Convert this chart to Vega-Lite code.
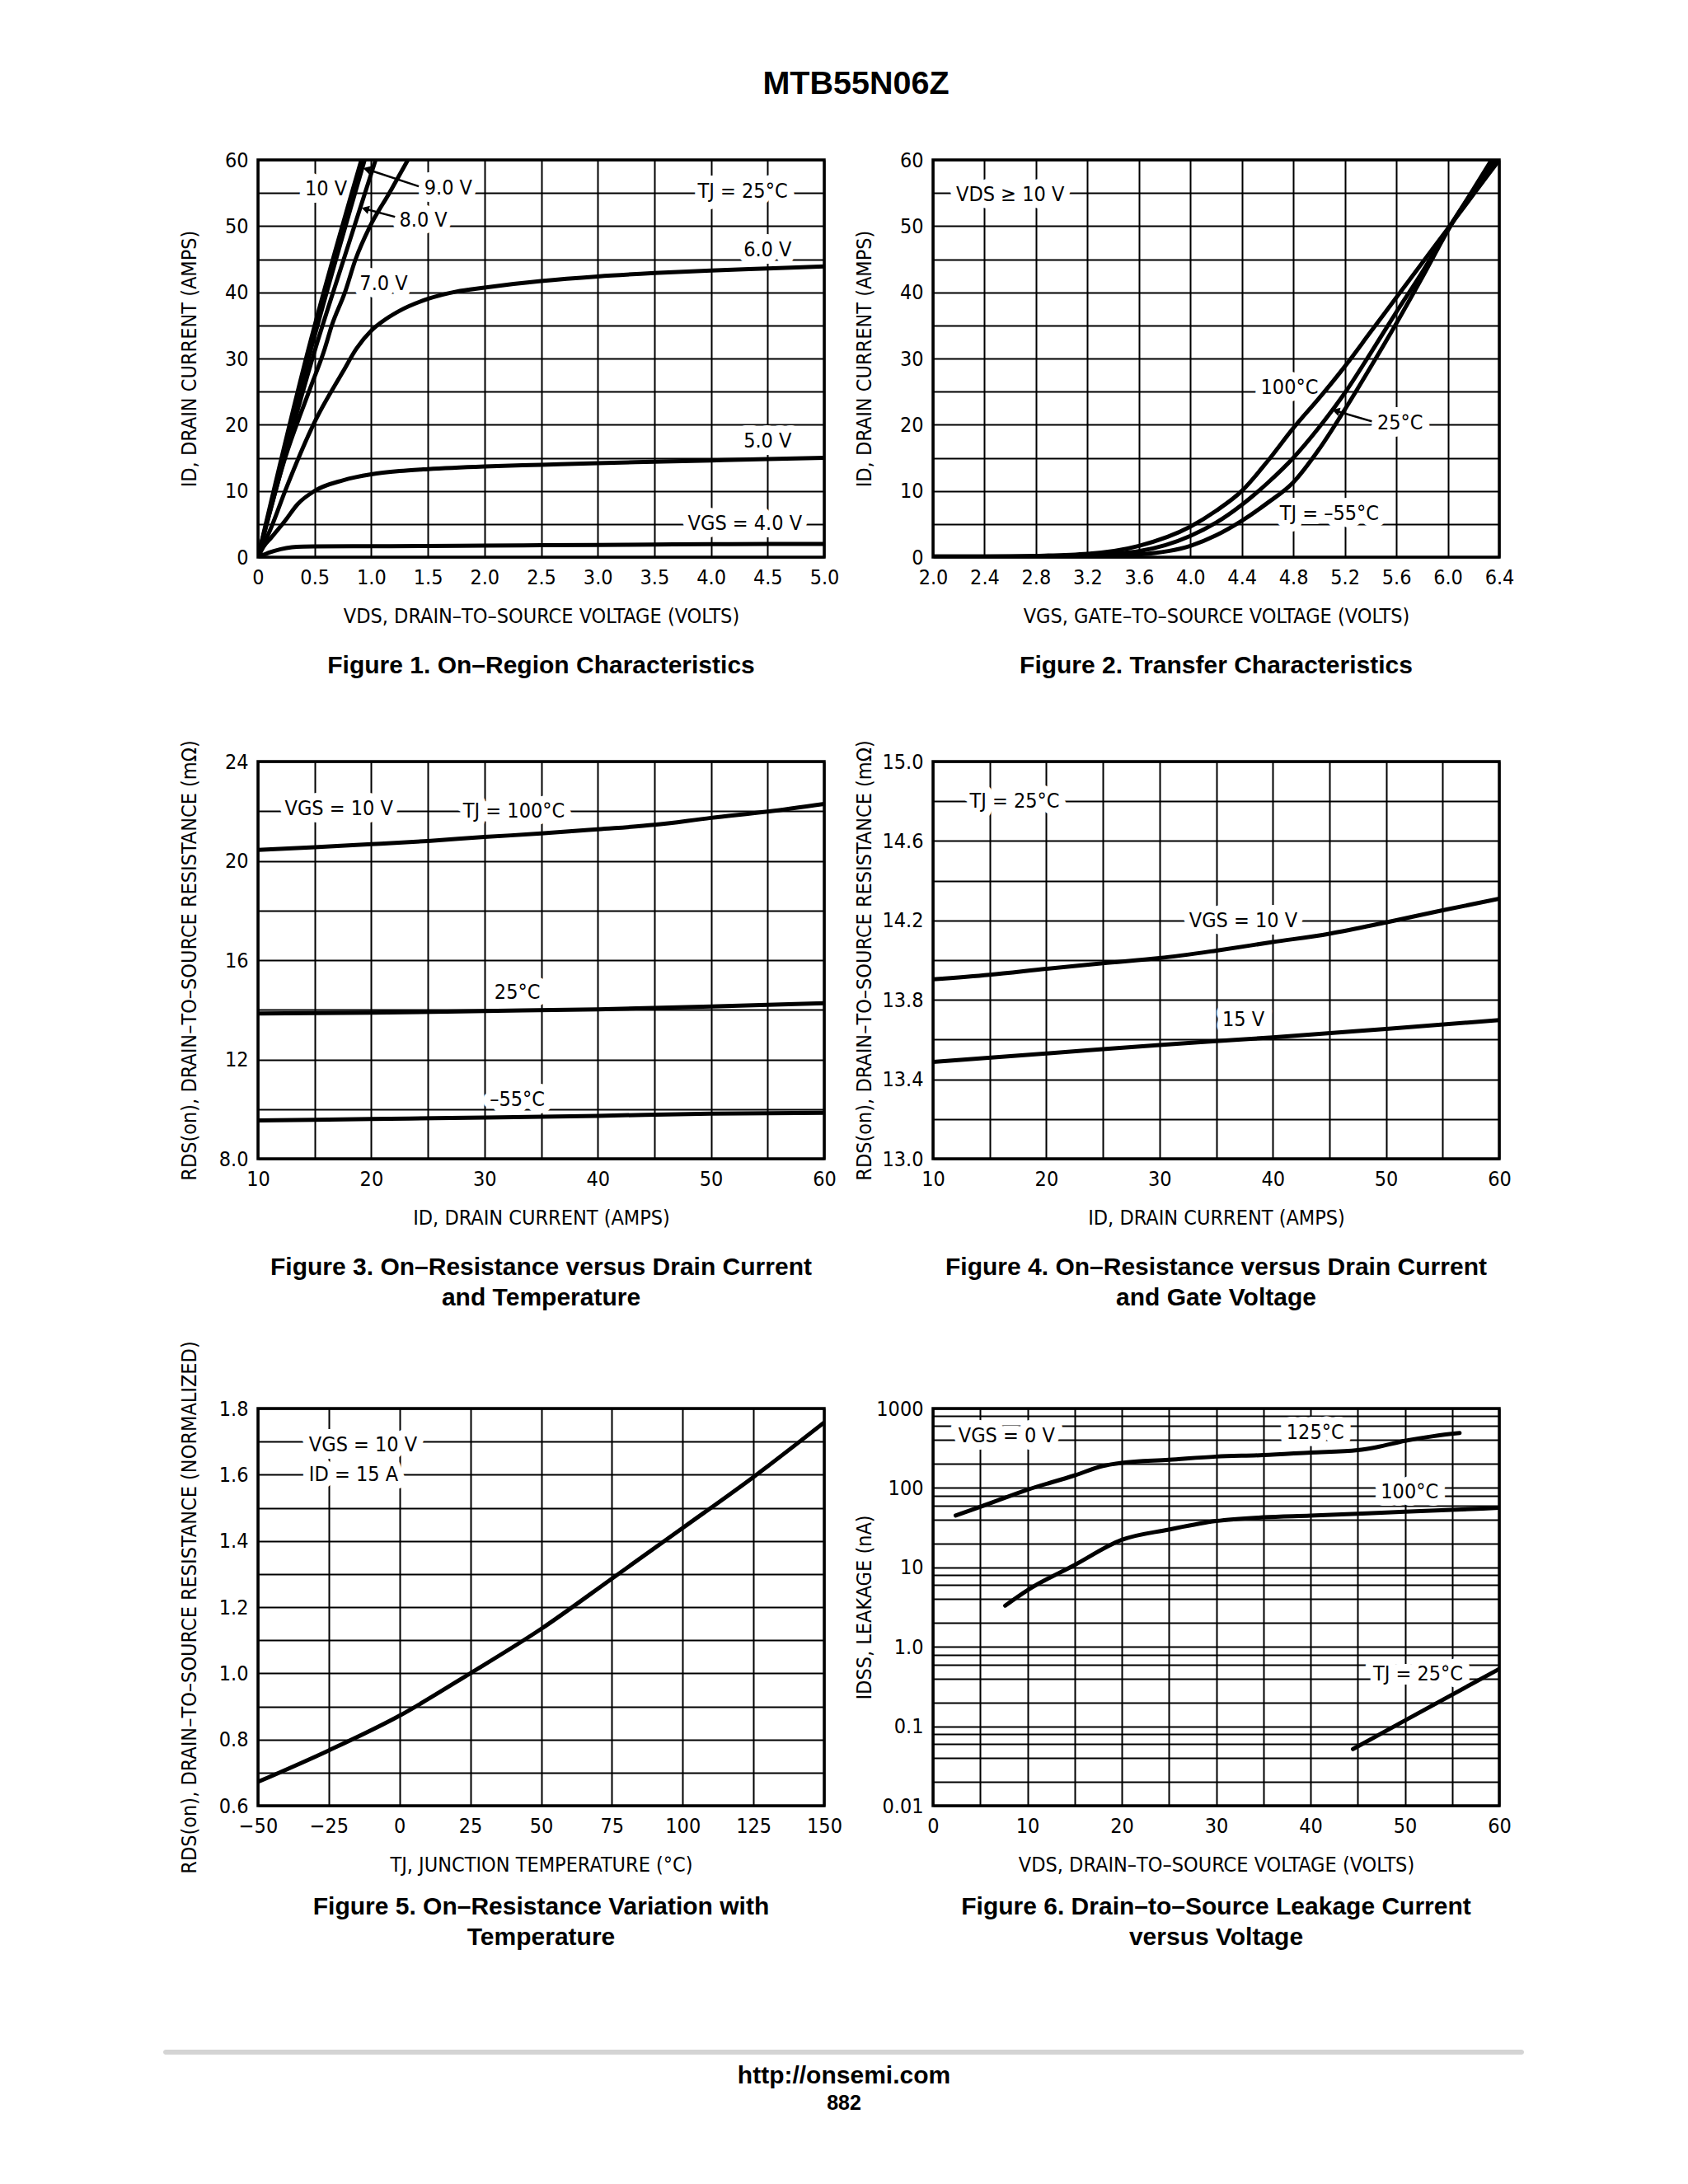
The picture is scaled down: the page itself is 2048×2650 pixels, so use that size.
{
  "$schema": "https://vega.github.io/schema/vega-lite/v6.json",
  "background": "white",
  "padding": {"left": 198, "top": 81, "right": 5, "bottom": 5},
  "title": {"text": "MTB55N06Z", "orient": "top", "anchor": "middle", "frame": "bounds", "fontSize": 39.5, "offset": 58, "dx": 15, "font": "'Liberation Sans', Arial, sans-serif", "fontWeight": "bold", "color": "black"},
  "config": {
    "view": {"stroke": "black", "strokeWidth": 3.5},
    "axis": {"grid": true, "gridColor": "black", "gridOpacity": 1, "gridWidth": 2, "domain": false, "ticks": false,
      "labelFont": "'Liberation Sans Narrow', 'Arial Narrow', 'DejaVu Sans Condensed', 'Liberation Sans', sans-serif", "labelFontSize": 25, "labelColor": "black",
      "titleFont": "'Liberation Sans Narrow', 'Arial Narrow', 'DejaVu Sans Condensed', 'Liberation Sans', sans-serif", "titleFontSize": 25, "titleFontWeight": "normal", "titleColor": "black",
      "labelOverlap": false, "labelFlush": false, "labelBound": false, "titleLimit": 2000, "labelLimit": 300, "labelPadding": 12},
    "axisX": {"titlePadding": 22, "labelPadding": 12},
    "axisY": {"titlePadding": 13, "minExtent": 58, "maxExtent": 58},
    "title": {"orient": "bottom", "anchor": "middle", "font": "'Liberation Sans', Arial, sans-serif", "fontSize": 30, "fontWeight": "bold", "color": "black", "offset": 33, "lineHeight": 37}
  },
  "datasets": {
    "f1": [
      {"s":"4","x":0,"y":0},{"s":"4","x":0.05,"y":0.35},{"s":"4","x":0.1,"y":0.7},{"s":"4","x":0.2,"y":1.2},{"s":"4","x":0.3,"y":1.5},{"s":"4","x":0.4,"y":1.6},{"s":"4","x":0.5,"y":1.62},{"s":"4","x":1,"y":1.65},{"s":"4","x":1.5,"y":1.68},{"s":"4","x":2,"y":1.75},{"s":"4","x":2.5,"y":1.8},{"s":"4","x":3,"y":1.85},{"s":"4","x":3.5,"y":1.9},{"s":"4","x":4,"y":1.95},{"s":"4","x":4.5,"y":2.0},{"s":"4","x":5,"y":2.0},
      {"s":"5","x":0,"y":0},{"s":"5","x":0.05,"y":1.6},{"s":"5","x":0.12,"y":3.0},{"s":"5","x":0.24,"y":5.5},{"s":"5","x":0.35,"y":8.0},{"s":"5","x":0.5,"y":10.0},{"s":"5","x":0.75,"y":11.6},{"s":"5","x":1,"y":12.5},{"s":"5","x":1.25,"y":13.0},{"s":"5","x":1.5,"y":13.3},{"s":"5","x":2,"y":13.7},{"s":"5","x":2.5,"y":13.95},{"s":"5","x":3,"y":14.2},{"s":"5","x":3.5,"y":14.4},{"s":"5","x":4,"y":14.6},{"s":"5","x":4.5,"y":14.8},{"s":"5","x":5,"y":15.0},
      {"s":"6","x":0,"y":0},{"s":"6","x":0.12,"y":4.6},{"s":"6","x":0.24,"y":10},{"s":"6","x":0.5,"y":20.4},{"s":"6","x":0.75,"y":28},{"s":"6","x":0.87,"y":31.5},{"s":"6","x":1,"y":34.2},{"s":"6","x":1.1,"y":35.6},{"s":"6","x":1.25,"y":37.2},{"s":"6","x":1.5,"y":39},{"s":"6","x":1.75,"y":40.1},{"s":"6","x":2,"y":40.7},{"s":"6","x":2.5,"y":41.7},{"s":"6","x":3,"y":42.4},{"s":"6","x":3.5,"y":42.9},{"s":"6","x":4,"y":43.3},{"s":"6","x":4.5,"y":43.6},{"s":"6","x":5,"y":43.9},
      {"s":"7","x":0,"y":0},{"s":"7","x":0.24,"y":15},{"s":"7","x":0.45,"y":25},{"s":"7","x":0.59,"y":31.5},{"s":"7","x":0.652,"y":35},{"s":"7","x":0.768,"y":40},{"s":"7","x":0.862,"y":45},{"s":"7","x":0.99,"y":50},{"s":"7","x":1.16,"y":55},{"s":"7","x":1.324,"y":60},
      {"s":"8","x":0,"y":0},{"s":"8","x":0.507,"y":31.5},{"s":"8","x":0.75,"y":44.6},{"s":"8","x":1.039,"y":60},
      {"s":"9","x":0,"y":0},{"s":"9","x":0.47,"y":31.5},{"s":"9","x":0.942,"y":60},
      {"s":"10","x":0,"y":0},{"s":"10","x":0.447,"y":31.5},{"s":"10","x":0.913,"y":60}
    ],
    "f1lab": [
      {"t":"10 V","x":0.6,"y":55.6},{"t":"9.0 V","x":1.68,"y":55.8},{"t":"8.0 V","x":1.46,"y":50.9},{"t":"7.0 V","x":1.11,"y":41.3},
      {"t":"TJ = 25°C","x":4.28,"y":55.3},{"t":"6.0 V","x":4.5,"y":46.4},{"t":"5.0 V","x":4.5,"y":17.6},{"t":"VGS = 4.0 V","x":4.3,"y":5.1}
    ],
    "f1arr": [{"x":0.96,"y":58.6,"x2":1.42,"y2":56.0},{"x":0.947,"y":52.6,"x2":1.21,"y2":51.4}],
    "f2": [
      {"s":"100","x":2.0,"y":0.1},{"s":"100","x":2.4,"y":0.1},{"s":"100","x":2.8,"y":0.2},{"s":"100","x":3.2,"y":0.5},{"s":"100","x":3.6,"y":1.7},{"s":"100","x":4.0,"y":4.6},{"s":"100","x":4.2,"y":7.0},{"s":"100","x":4.4,"y":10.0},{"s":"100","x":4.6,"y":14.5},{"s":"100","x":4.8,"y":19.5},{"s":"100","x":5.0,"y":24.0},{"s":"100","x":5.2,"y":28.8},{"s":"100","x":5.4,"y":34.0},{"s":"100","x":5.6,"y":39.2},{"s":"100","x":5.8,"y":44.4},{"s":"100","x":6.0,"y":49.6},{"s":"100","x":6.2,"y":54.8},{"s":"100","x":6.4,"y":60},
      {"s":"25","x":2.0,"y":0.1},{"s":"25","x":2.4,"y":0.1},{"s":"25","x":2.8,"y":0.1},{"s":"25","x":3.2,"y":0.3},{"s":"25","x":3.6,"y":0.9},{"s":"25","x":4.0,"y":3.2},{"s":"25","x":4.2,"y":5.2},{"s":"25","x":4.4,"y":7.9},{"s":"25","x":4.6,"y":11.2},{"s":"25","x":4.8,"y":15.0},{"s":"25","x":5.0,"y":19.6},{"s":"25","x":5.2,"y":24.8},{"s":"25","x":5.4,"y":30.8},{"s":"25","x":5.6,"y":37.0},{"s":"25","x":5.8,"y":43.0},{"s":"25","x":6.0,"y":49.5},{"s":"25","x":6.2,"y":55.4},{"s":"25","x":6.37,"y":60},
      {"s":"-55","x":2.0,"y":0.05},{"s":"-55","x":2.8,"y":0.05},{"s":"-55","x":3.2,"y":0.1},{"s":"-55","x":3.6,"y":0.4},{"s":"-55","x":4.0,"y":1.7},{"s":"-55","x":4.2,"y":3.3},{"s":"-55","x":4.4,"y":5.5},{"s":"-55","x":4.6,"y":8.2},{"s":"-55","x":4.8,"y":11.3},{"s":"-55","x":5.0,"y":16.3},{"s":"-55","x":5.2,"y":22.3},{"s":"-55","x":5.4,"y":28.7},{"s":"-55","x":5.6,"y":35.3},{"s":"-55","x":5.8,"y":42.2},{"s":"-55","x":6.0,"y":49.3},{"s":"-55","x":6.2,"y":55.6},{"s":"-55","x":6.34,"y":60}
    ],
    "f2lab": [
      {"t":"VDS ≥ 10 V","x":2.6,"y":54.8},{"t":"100°C","x":4.77,"y":25.6},{"t":"25°C","x":5.63,"y":20.3},{"t":"TJ = –55°C","x":5.08,"y":6.6}
    ],
    "f2arr": [{"x":5.13,"y":22.1,"x2":5.41,"y2":20.5}],
    "f3": [
      {"s":"100","x":10,"y":20.44},{"s":"100","x":15,"y":20.55},{"s":"100","x":20,"y":20.67},{"s":"100","x":25,"y":20.8},{"s":"100","x":30,"y":20.96},{"s":"100","x":35,"y":21.1},{"s":"100","x":40,"y":21.27},{"s":"100","x":45,"y":21.45},{"s":"100","x":50,"y":21.73},{"s":"100","x":55,"y":21.98},{"s":"100","x":60,"y":22.29},
      {"s":"25","x":10,"y":13.85},{"s":"25","x":20,"y":13.88},{"s":"25","x":30,"y":13.95},{"s":"25","x":40,"y":14.02},{"s":"25","x":50,"y":14.13},{"s":"25","x":60,"y":14.27},
      {"s":"-55","x":10,"y":9.54},{"s":"-55","x":20,"y":9.6},{"s":"-55","x":30,"y":9.66},{"s":"-55","x":40,"y":9.73},{"s":"-55","x":50,"y":9.82},{"s":"-55","x":60,"y":9.85}
    ],
    "f3lab": [
      {"t":"VGS = 10 V","x":17.15,"y":22.1},{"t":"TJ = 100°C","x":32.6,"y":22.0},{"t":"25°C","x":32.9,"y":14.7},{"t":"–55°C","x":32.9,"y":10.4}
    ],
    "f4": [
      {"s":"10","x":10,"y":13.903},{"s":"10","x":15,"y":13.926},{"s":"10","x":20,"y":13.956},{"s":"10","x":25,"y":13.984},{"s":"10","x":30,"y":14.01},{"s":"10","x":35,"y":14.048},{"s":"10","x":40,"y":14.091},{"s":"10","x":45,"y":14.133},{"s":"10","x":50,"y":14.19},{"s":"10","x":55,"y":14.251},{"s":"10","x":60,"y":14.309},
      {"s":"15","x":10,"y":13.488},{"s":"15","x":20,"y":13.53},{"s":"15","x":30,"y":13.573},{"s":"15","x":35,"y":13.592},{"s":"15","x":40,"y":13.611},{"s":"15","x":50,"y":13.654},{"s":"15","x":60,"y":13.698}
    ],
    "f4lab": [
      {"t":"TJ = 25°C","x":17.2,"y":14.8},{"t":"VGS = 10 V","x":37.4,"y":14.2},{"t":"15 V","x":37.4,"y":13.7}
    ],
    "f5": [
      {"x":-50,"y":0.672},{"x":-25,"y":0.767},{"x":0,"y":0.872},{"x":25,"y":1.0},{"x":50,"y":1.134},{"x":75,"y":1.286},{"x":100,"y":1.439},{"x":125,"y":1.593},{"x":150,"y":1.758}
    ],
    "f5lab": [
      {"t":"VGS = 10 V","x":-32,"y":1.69},{"t":"ID = 15 A","x":-32,"y":1.6}
    ],
    "f6": [
      {"s":"125","x":2.4,"y":45},{"s":"125","x":5,"y":57.7},{"s":"125","x":10,"y":95},{"s":"125","x":15,"y":143.6},{"s":"125","x":18,"y":189},{"s":"125","x":20,"y":207},{"s":"125","x":25,"y":226},{"s":"125","x":30,"y":248},{"s":"125","x":35,"y":259},{"s":"125","x":40,"y":279},{"s":"125","x":45,"y":300},{"s":"125","x":47,"y":326},{"s":"125","x":50,"y":391},{"s":"125","x":53,"y":448},{"s":"125","x":55.8,"y":491},
      {"s":"100","x":7.65,"y":3.3},{"s":"100","x":10,"y":5.15},{"s":"100","x":15,"y":10.7},{"s":"100","x":20,"y":22.2},{"s":"100","x":25,"y":29.9},{"s":"100","x":30,"y":38.3},{"s":"100","x":35,"y":42.7},{"s":"100","x":40,"y":44.7},{"s":"100","x":50,"y":50.3},{"s":"100","x":60,"y":56.1},
      {"s":"25","x":44.5,"y":0.0516},{"s":"25","x":50,"y":0.118},{"s":"25","x":60,"y":0.527}
    ],
    "f6lab": [
      {"t":"VGS = 0 V","x":7.8,"y":450},{"t":"125°C","x":40.5,"y":500},{"t":"100°C","x":50.5,"y":89},{"t":"TJ = 25°C","x":51.4,"y":0.46}
    ]
  },
  "spacing": 119,
  "bounds": "full",
  "vconcat": [
    {
      "bounds": "full",
      "spacing": 33,
      "vconcat": [
        {
          "bounds": "flush",
          "columns": 2,
          "spacing": {"row": 248, "column": 132},
          "concat": [
            {
              "width": 687, "height": 482,
              "title": {"text": "Figure 1. On–Region Characteristics"},
              "encoding": {
                "x": {"field": "x", "type": "quantitative", "scale": {"domain": [0, 5], "nice": false, "zero": false},
                  "axis": {"title": "VDS, DRAIN–TO–SOURCE VOLTAGE (VOLTS)", "values": [0,0.5,1,1.5,2,2.5,3,3.5,4,4.5,5], "labelExpr": "datum.value == 0 ? '0' : format(datum.value, '.1f')"}},
                "y": {"field": "y", "type": "quantitative", "scale": {"domain": [0, 60], "nice": false, "zero": false},
                  "axis": {"title": "ID, DRAIN CURRENT (AMPS)", "values": [0,5,10,15,20,25,30,35,40,45,50,55,60], "labelExpr": "datum.value % 10 == 0 ? format(datum.value, 'd') : ''"}}
              },
              "layer": [
                {"data": {"name": "f1lab"}, "mark": {"type": "text", "font": "'Liberation Sans Narrow', 'Arial Narrow', 'DejaVu Sans Condensed', 'Liberation Sans', sans-serif", "fontSize": 25, "color": "white", "stroke": "white", "strokeWidth": 18, "strokeJoin": "round", "align": "center", "baseline": "middle"}, "encoding": {"text": {"field": "t"}}},
                {"data": {"name": "f1"}, "mark": {"type": "line", "color": "black", "strokeWidth": 5, "interpolate": "monotone", "strokeCap": "round", "clip": true}, "encoding": {"detail": {"field": "s"}}},
                {"data": {"name": "f1arr"}, "mark": {"type": "rule", "color": "black", "strokeWidth": 2.5}, "encoding": {"x2": {"field": "x2"}, "y2": {"field": "y2"}}},
                {"data": {"name": "f1arr"}, "mark": {"type": "point", "shape": "triangle-left", "angle": 16, "filled": true, "color": "black", "opacity": 1, "size": 110}},
                {"data": {"name": "f1lab"}, "mark": {"type": "text", "font": "'Liberation Sans Narrow', 'Arial Narrow', 'DejaVu Sans Condensed', 'Liberation Sans', sans-serif", "fontSize": 25, "color": "black", "align": "center", "baseline": "middle"}, "encoding": {"text": {"field": "t"}}}
              ]
            },
            {
              "width": 687, "height": 482,
              "title": {"text": "Figure 2. Transfer Characteristics"},
              "encoding": {
                "x": {"field": "x", "type": "quantitative", "scale": {"domain": [2, 6.4], "nice": false, "zero": false},
                  "axis": {"title": "VGS, GATE–TO–SOURCE VOLTAGE (VOLTS)", "values": [2,2.4,2.8,3.2,3.6,4,4.4,4.8,5.2,5.6,6,6.4], "labelExpr": "format(datum.value, '.1f')"}},
                "y": {"field": "y", "type": "quantitative", "scale": {"domain": [0, 60], "nice": false, "zero": false},
                  "axis": {"title": "ID, DRAIN CURRENT (AMPS)", "values": [0,5,10,15,20,25,30,35,40,45,50,55,60], "labelExpr": "datum.value % 10 == 0 ? format(datum.value, 'd') : ''"}}
              },
              "layer": [
                {"data": {"name": "f2lab"}, "mark": {"type": "text", "font": "'Liberation Sans Narrow', 'Arial Narrow', 'DejaVu Sans Condensed', 'Liberation Sans', sans-serif", "fontSize": 25, "color": "white", "stroke": "white", "strokeWidth": 18, "strokeJoin": "round", "align": "center", "baseline": "middle"}, "encoding": {"text": {"field": "t"}}},
                {"data": {"name": "f2"}, "mark": {"type": "line", "color": "black", "strokeWidth": 5, "interpolate": "monotone", "strokeCap": "round", "clip": true}, "encoding": {"detail": {"field": "s"}}},
                {"data": {"name": "f2arr"}, "mark": {"type": "rule", "color": "black", "strokeWidth": 2.5}, "encoding": {"x2": {"field": "x2"}, "y2": {"field": "y2"}}},
                {"data": {"name": "f2arr"}, "mark": {"type": "point", "shape": "triangle-left", "angle": 16, "filled": true, "color": "black", "opacity": 1, "size": 110}},
                {"data": {"name": "f2lab"}, "mark": {"type": "text", "font": "'Liberation Sans Narrow', 'Arial Narrow', 'DejaVu Sans Condensed', 'Liberation Sans', sans-serif", "fontSize": 25, "color": "black", "align": "center", "baseline": "middle"}, "encoding": {"text": {"field": "t"}}}
              ]
            },
            {
              "width": 687, "height": 482,
              "title": {"text": ["Figure 3. On–Resistance versus Drain Current", "and Temperature"]},
              "encoding": {
                "x": {"field": "x", "type": "quantitative", "scale": {"domain": [10, 60], "nice": false, "zero": false},
                  "axis": {"title": "ID, DRAIN CURRENT (AMPS)", "values": [10,15,20,25,30,35,40,45,50,55,60], "labelExpr": "datum.value % 10 == 0 ? format(datum.value, 'd') : ''"}},
                "y": {"field": "y", "type": "quantitative", "scale": {"domain": [8, 24], "nice": false, "zero": false},
                  "axis": {"title": "RDS(on), DRAIN–TO–SOURCE RESISTANCE (mΩ)", "values": [8,10,12,14,16,18,20,22,24], "labelExpr": "datum.value % 4 == 0 ? (datum.value == 8 ? '8.0' : format(datum.value, 'd')) : ''"}}
              },
              "layer": [
                {"data": {"name": "f3lab"}, "mark": {"type": "text", "font": "'Liberation Sans Narrow', 'Arial Narrow', 'DejaVu Sans Condensed', 'Liberation Sans', sans-serif", "fontSize": 25, "color": "white", "stroke": "white", "strokeWidth": 18, "strokeJoin": "round", "align": "center", "baseline": "middle"}, "encoding": {"text": {"field": "t"}}},
                {"data": {"name": "f3"}, "mark": {"type": "line", "color": "black", "strokeWidth": 5, "interpolate": "monotone", "strokeCap": "round", "clip": true}, "encoding": {"detail": {"field": "s"}}},
                {"data": {"name": "f3lab"}, "mark": {"type": "text", "font": "'Liberation Sans Narrow', 'Arial Narrow', 'DejaVu Sans Condensed', 'Liberation Sans', sans-serif", "fontSize": 25, "color": "black", "align": "center", "baseline": "middle"}, "encoding": {"text": {"field": "t"}}}
              ]
            },
            {
              "width": 687, "height": 482,
              "title": {"text": ["Figure 4. On–Resistance versus Drain Current", "and Gate Voltage"]},
              "encoding": {
                "x": {"field": "x", "type": "quantitative", "scale": {"domain": [10, 60], "nice": false, "zero": false},
                  "axis": {"title": "ID, DRAIN CURRENT (AMPS)", "values": [10,15,20,25,30,35,40,45,50,55,60], "labelExpr": "datum.value % 10 == 0 ? format(datum.value, 'd') : ''"}},
                "y": {"field": "y", "type": "quantitative", "scale": {"domain": [13, 15], "nice": false, "zero": false},
                  "axis": {"title": "RDS(on), DRAIN–TO–SOURCE RESISTANCE (mΩ)", "values": [13,13.2,13.4,13.6,13.8,14,14.2,14.4,14.6,14.8,15], "labelExpr": "round((datum.value - 13) * 10) % 4 == 0 ? format(datum.value, '.1f') : ''"}}
              },
              "layer": [
                {"data": {"name": "f4lab"}, "mark": {"type": "text", "font": "'Liberation Sans Narrow', 'Arial Narrow', 'DejaVu Sans Condensed', 'Liberation Sans', sans-serif", "fontSize": 25, "color": "white", "stroke": "white", "strokeWidth": 18, "strokeJoin": "round", "align": "center", "baseline": "middle"}, "encoding": {"text": {"field": "t"}}},
                {"data": {"name": "f4"}, "mark": {"type": "line", "color": "black", "strokeWidth": 5, "interpolate": "monotone", "strokeCap": "round", "clip": true}, "encoding": {"detail": {"field": "s"}}},
                {"data": {"name": "f4lab"}, "mark": {"type": "text", "font": "'Liberation Sans Narrow', 'Arial Narrow', 'DejaVu Sans Condensed', 'Liberation Sans', sans-serif", "fontSize": 25, "color": "black", "align": "center", "baseline": "middle"}, "encoding": {"text": {"field": "t"}}}
              ]
            }
          ]
        },
        {
          "bounds": "flush",
          "spacing": 132,
          "hconcat": [
            {
              "width": 687, "height": 482,
              "title": {"text": ["Figure 5. On–Resistance Variation with", "Temperature"], "offset": 24},
              "encoding": {
                "x": {"field": "x", "type": "quantitative", "scale": {"domain": [-50, 150], "nice": false, "zero": false},
                  "axis": {"title": "TJ, JUNCTION TEMPERATURE (°C)", "values": [-50,-25,0,25,50,75,100,125,150], "labelExpr": "format(datum.value, 'd')"}},
                "y": {"field": "y", "type": "quantitative", "scale": {"domain": [0.6, 1.8], "nice": false, "zero": false},
                  "axis": {"title": "RDS(on), DRAIN–TO–SOURCE RESISTANCE (NORMALIZED)", "values": [0.6,0.7,0.8,0.9,1.0,1.1,1.2,1.3,1.4,1.5,1.6,1.7,1.8], "labelExpr": "round(datum.value * 10) % 2 == 0 ? format(datum.value, '.1f') : ''"}}
              },
              "layer": [
                {"data": {"name": "f5lab"}, "mark": {"type": "text", "font": "'Liberation Sans Narrow', 'Arial Narrow', 'DejaVu Sans Condensed', 'Liberation Sans', sans-serif", "fontSize": 25, "color": "white", "stroke": "white", "strokeWidth": 18, "strokeJoin": "round", "align": "left", "baseline": "middle"}, "encoding": {"text": {"field": "t"}}},
                {"data": {"name": "f5"}, "mark": {"type": "line", "color": "black", "strokeWidth": 5, "interpolate": "monotone", "strokeCap": "round", "clip": true}},
                {"data": {"name": "f5lab"}, "mark": {"type": "text", "font": "'Liberation Sans Narrow', 'Arial Narrow', 'DejaVu Sans Condensed', 'Liberation Sans', sans-serif", "fontSize": 25, "color": "black", "align": "left", "baseline": "middle"}, "encoding": {"text": {"field": "t"}}}
              ]
            },
            {
              "width": 687, "height": 482,
              "title": {"text": ["Figure 6. Drain–to–Source Leakage Current", "versus Voltage"], "offset": 24},
              "encoding": {
                "x": {"field": "x", "type": "quantitative", "scale": {"domain": [0, 60], "nice": false, "zero": false},
                  "axis": {"title": "VDS, DRAIN–TO–SOURCE VOLTAGE (VOLTS)", "values": [0,5,10,15,20,25,30,35,40,45,50,55,60], "labelExpr": "datum.value % 10 == 0 ? format(datum.value, 'd') : ''"}},
                "y": {"field": "y", "type": "quantitative", "scale": {"type": "log", "domain": [0.01, 1000], "nice": false},
                  "axis": {"title": "IDSS, LEAKAGE (nA)", "values": [0.01,0.02,0.04,0.06,0.08,0.1,0.2,0.4,0.6,0.8,1,2,4,6,8,10,20,40,60,80,100,200,400,600,800,1000], "labelExpr": "datum.value == 1000 ? '1000' : datum.value == 100 ? '100' : datum.value == 10 ? '10' : datum.value == 1 ? '1.0' : datum.value == 0.1 ? '0.1' : datum.value == 0.01 ? '0.01' : ''"}}
              },
              "layer": [
                {"data": {"name": "f6lab"}, "mark": {"type": "text", "font": "'Liberation Sans Narrow', 'Arial Narrow', 'DejaVu Sans Condensed', 'Liberation Sans', sans-serif", "fontSize": 25, "color": "white", "stroke": "white", "strokeWidth": 18, "strokeJoin": "round", "align": "center", "baseline": "middle"}, "encoding": {"text": {"field": "t"}}},
                {"data": {"name": "f6"}, "mark": {"type": "line", "color": "black", "strokeWidth": 5, "interpolate": "monotone", "strokeCap": "round", "clip": true}, "encoding": {"detail": {"field": "s"}}},
                {"data": {"name": "f6lab"}, "mark": {"type": "text", "font": "'Liberation Sans Narrow', 'Arial Narrow', 'DejaVu Sans Condensed', 'Liberation Sans', sans-serif", "fontSize": 25, "color": "black", "align": "center", "baseline": "middle"}, "encoding": {"text": {"field": "t"}}}
              ]
            }
          ]
        }
      ]
    },
    {
      "width": 1422, "height": 6,
      "view": {"stroke": null},
      "data": {"values": [{"a": 0, "b": 1}]},
      "mark": {"type": "rect", "color": "#d4d4d4", "cornerRadius": 3},
      "encoding": {
        "x": {"field": "a", "type": "quantitative", "scale": {"domain": [0, 1], "range": [-115, 1536], "nice": false, "zero": false}, "axis": null},
        "x2": {"field": "b"}
      },
      "title": {"text": "http://onsemi.com", "subtitle": "882", "orient": "bottom", "anchor": "middle", "frame": "group", "font": "'Liberation Sans', Arial, sans-serif", "fontSize": 30, "fontWeight": "bold", "color": "black", "subtitleFont": "'Liberation Sans Narrow', 'Liberation Sans', sans-serif", "subtitleFontSize": 25, "subtitleFontWeight": "bold", "subtitleColor": "black", "offset": 11, "subtitlePadding": 6}
    }
  ]
}
